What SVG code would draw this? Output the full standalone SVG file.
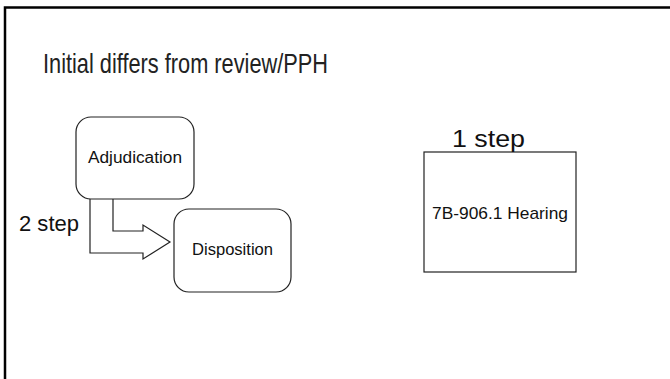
<svg xmlns="http://www.w3.org/2000/svg" width="670" height="379" viewBox="0 0 670 379">
  <style>
    .frame { fill: none; stroke: #000; stroke-width: 2.5; }
    .box { fill: #fff; stroke: #222; stroke-width: 1.2; }
    .lbl { font-family: "Liberation Sans", Arial, sans-serif; fill: #111; text-anchor: middle; }
    .title { font-family: "Liberation Sans", Arial, sans-serif; fill: #222; font-size: 28px; }
    .conn { fill: #fff; stroke: #222; stroke-width: 1.2; stroke-linejoin: miter; }
  </style>
  <rect x="0" y="0" width="670" height="379" fill="#fff"/>
  <!-- slide frame, running off the right and bottom edges -->
  <rect class="frame" x="5" y="7.5" width="700" height="400"/>

  <text class="title" x="43" y="73" textLength="285" lengthAdjust="spacingAndGlyphs">Initial differs from review/PPH</text>

  <g id="connectors">
    <!-- bent block arrow from Adjudication to Disposition -->
    <path class="conn" d="M90,199 L90,253 L143,253 L143,259 L170,242 L143,225 L143,231 L113,231 L113,199"/>
  </g>

  <g id="adjudication">
    <rect class="box" x="76" y="117" width="118" height="82" rx="15" ry="15"/>
    <text class="lbl" x="135" y="163" font-size="16" textLength="94" lengthAdjust="spacingAndGlyphs">Adjudication</text>
  </g>

  <g id="disposition">
    <rect class="box" x="174" y="209" width="117" height="83" rx="15" ry="15"/>
    <text class="lbl" x="232.5" y="255" font-size="16" textLength="81" lengthAdjust="spacingAndGlyphs">Disposition</text>
  </g>

  <text class="lbl" x="49" y="231" font-size="22" textLength="60" lengthAdjust="spacingAndGlyphs">2 step</text>

  <g id="hearing">
    <rect class="box" x="424" y="152" width="152" height="120"/>
    <text class="lbl" x="500" y="219" font-size="17" textLength="136" lengthAdjust="spacingAndGlyphs">7B-906.1 Hearing</text>
  </g>

  <text class="lbl" x="488.5" y="147" font-size="24" textLength="73" lengthAdjust="spacingAndGlyphs">1 step</text>
</svg>
